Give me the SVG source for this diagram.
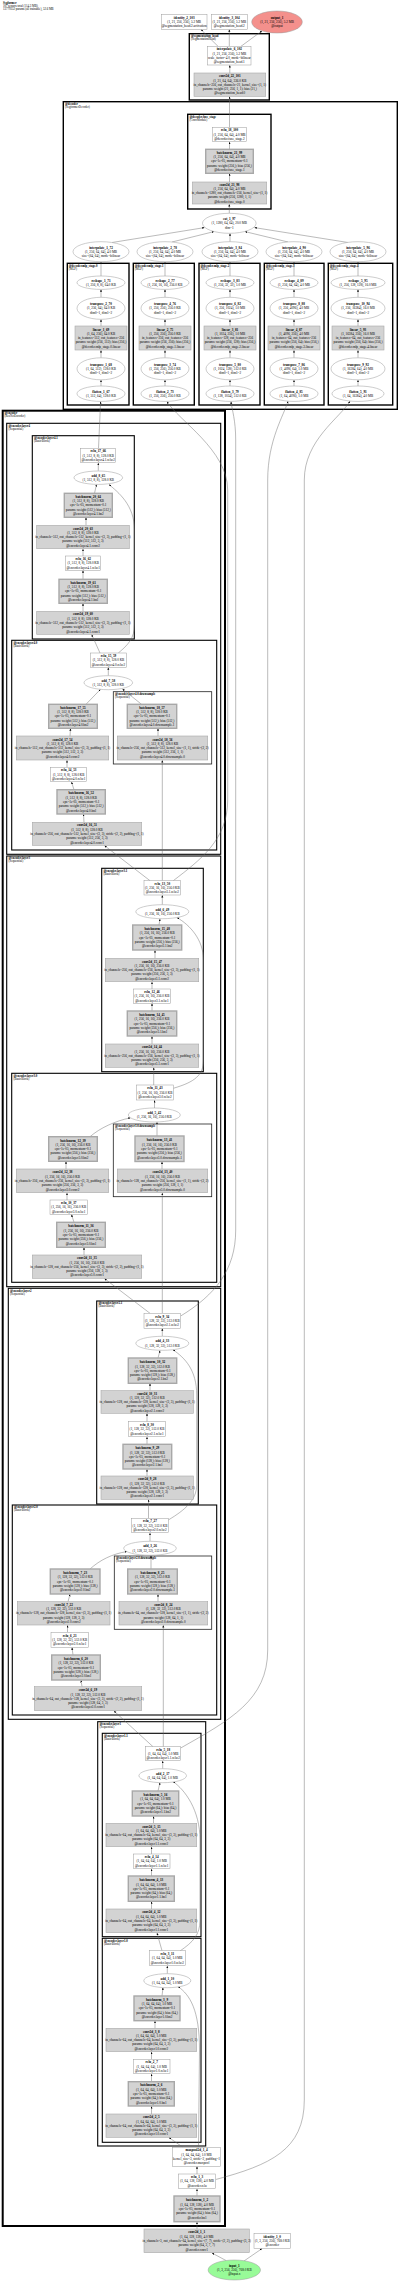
<svg xmlns="http://www.w3.org/2000/svg" width="400" height="2282" viewBox="0 0 400 2282">
<style>
.t{font-family:'Liberation Serif','Times New Roman',serif;font-size:3.3px;text-anchor:middle;fill:#000}
.b{font-weight:bold}
.cl{font-family:'Liberation Serif','Times New Roman',serif;font-size:3px;fill:#000}
.fn{fill:#fff;stroke:#9a9a9a;stroke-width:0.5}
.md{fill:#d3d3d3;stroke:#a8a8a8;stroke-width:0.6}
.m2{fill:#d3d3d3;stroke:#a8a8a8;stroke-width:1.4}
.c0{fill:none;stroke:#000;stroke-width:2}
.c1{fill:none;stroke:#000;stroke-width:1.4}
.c2{fill:none;stroke:#000;stroke-width:1.1}
.c3{fill:none;stroke:#222;stroke-width:0.8}
.e path{fill:none;stroke:#666;stroke-width:0.45;marker-end:url(#ah)}
</style>
<defs><marker id="ah" markerWidth="3" markerHeight="3" refX="2.2" refY="1" orient="auto" markerUnits="userSpaceOnUse"><path d="M0,0L2.2,1L0,2z" fill="#000"/></marker></defs>
<rect x="0" y="0" width="400" height="2282" fill="#fff"/>
<text class="cl" x="3" y="4"><tspan class="b">Segformer</tspan><tspan x="3" dy="3.2">107 tensors total (114.3 MB)</tspan><tspan x="3" dy="3.2">13779352 params (all trainable), 52.6 MB</tspan></text>

<g id="clusters">
<rect class="c1" x="189.3" y="33.7" width="80" height="66.3"/><text class="cl" x="191" y="36.9"><tspan class="b">@segmentation_head</tspan><tspan x="191" dy="3">(SegmentationHead)</tspan></text>
<rect class="c1" x="63.3" y="101.7" width="334" height="307.6"/><text class="cl" x="65" y="104.9"><tspan class="b">@decoder</tspan><tspan x="65" dy="3">(SegformerDecoder)</tspan></text>
<rect class="c1" x="187.7" y="114.3" width="83.3" height="94.7"/><text class="cl" x="189.5" y="117.5"><tspan class="b">@decoder.fuse_stage</tspan><tspan x="189.5" dy="3">(ConvModule)</tspan></text>
<rect class="c1" x="67.3" y="263.3" width="61.7" height="141.7"/><text class="cl" x="68.8" y="266.5"><tspan class="b">@decoder.mlp_stage.0</tspan><tspan x="68.8" dy="3">(MLP)</tspan></text>
<rect class="c1" x="133.3" y="263.3" width="61" height="141.7"/><text class="cl" x="134.8" y="266.5"><tspan class="b">@decoder.mlp_stage.1</tspan><tspan x="134.8" dy="3">(MLP)</tspan></text>
<rect class="c1" x="199" y="263.3" width="61" height="141.7"/><text class="cl" x="200.5" y="266.5"><tspan class="b">@decoder.mlp_stage.2</tspan><tspan x="200.5" dy="3">(MLP)</tspan></text>
<rect class="c1" x="264.3" y="263.3" width="59.7" height="141.7"/><text class="cl" x="265.8" y="266.5"><tspan class="b">@decoder.mlp_stage.3</tspan><tspan x="265.8" dy="3">(MLP)</tspan></text>
<rect class="c1" x="328.3" y="263.3" width="64.4" height="141.7"/><text class="cl" x="329.8" y="266.5"><tspan class="b">@decoder.mlp_stage.4</tspan><tspan x="329.8" dy="3">(MLP)</tspan></text>
<rect class="c0" x="2.7" y="410.7" width="222.3" height="1815.3"/><text class="cl" x="4.5" y="413.9"><tspan class="b">@encoder</tspan><tspan x="4.5" dy="3">(ResNetEncoder)</tspan></text>
<rect class="c2" x="6.7" y="423.3" width="214" height="431"/><text class="cl" x="8.5" y="426.5"><tspan class="b">@encoder.layer4</tspan><tspan x="8.5" dy="3">(Sequential)</tspan></text>
<rect class="c2" x="32.3" y="435.7" width="102" height="203.3"/><text class="cl" x="34" y="438.9"><tspan class="b">@encoder.layer4.1</tspan><tspan x="34" dy="3">(BasicBlock)</tspan></text>
<rect class="c2" x="11.7" y="640.3" width="205" height="209.7"/><text class="cl" x="13.5" y="643.5"><tspan class="b">@encoder.layer4.0</tspan><tspan x="13.5" dy="3">(BasicBlock)</tspan></text>
<rect class="c3" x="113.3" y="691.7" width="98.4" height="72.3"/><text class="cl" x="115" y="694.9"><tspan class="b">@encoder.layer4.0.downsample</tspan><tspan x="115" dy="3">(Sequential)</tspan></text>
<rect class="c2" x="6.7" y="856" width="214" height="430.7"/><text class="cl" x="8.5" y="859.2"><tspan class="b">@encoder.layer3</tspan><tspan x="8.5" dy="3">(Sequential)</tspan></text>
<rect class="c2" x="101.7" y="868.3" width="101.6" height="203.4"/><text class="cl" x="103.5" y="871.5"><tspan class="b">@encoder.layer3.1</tspan><tspan x="103.5" dy="3">(BasicBlock)</tspan></text>
<rect class="c2" x="11.7" y="1073.3" width="205" height="209"/><text class="cl" x="13.5" y="1076.5"><tspan class="b">@encoder.layer3.0</tspan><tspan x="13.5" dy="3">(BasicBlock)</tspan></text>
<rect class="c3" x="113.3" y="1124" width="98.4" height="72.7"/><text class="cl" x="115" y="1127.2"><tspan class="b">@encoder.layer3.0.downsample</tspan><tspan x="115" dy="3">(Sequential)</tspan></text>
<rect class="c2" x="8.3" y="1288.3" width="212.4" height="431"/><text class="cl" x="10" y="1291.5"><tspan class="b">@encoder.layer2</tspan><tspan x="10" dy="3">(Sequential)</tspan></text>
<rect class="c2" x="96.7" y="1301" width="101.6" height="203"/><text class="cl" x="98.5" y="1304.2"><tspan class="b">@encoder.layer2.1</tspan><tspan x="98.5" dy="3">(BasicBlock)</tspan></text>
<rect class="c2" x="12.3" y="1505" width="204.4" height="210"/><text class="cl" x="14" y="1508.2"><tspan class="b">@encoder.layer2.0</tspan><tspan x="14" dy="3">(BasicBlock)</tspan></text>
<rect class="c3" x="114.3" y="1556" width="97.4" height="73.3"/><text class="cl" x="116" y="1559.2"><tspan class="b">@encoder.layer2.0.downsample</tspan><tspan x="116" dy="3">(Sequential)</tspan></text>
<rect class="c2" x="97.7" y="1721.7" width="108" height="424.3"/><text class="cl" x="99.5" y="1724.9"><tspan class="b">@encoder.layer1</tspan><tspan x="99.5" dy="3">(Sequential)</tspan></text>
<rect class="c2" x="102.3" y="1733.3" width="98.7" height="203.4"/><text class="cl" x="104" y="1736.5"><tspan class="b">@encoder.layer1.1</tspan><tspan x="104" dy="3">(BasicBlock)</tspan></text>
<rect class="c2" x="102.3" y="1938.3" width="98.7" height="204"/><text class="cl" x="104" y="1941.5"><tspan class="b">@encoder.layer1.0</tspan><tspan x="104" dy="3">(BasicBlock)</tspan></text>
</g>

<g id="connectors" class="e">
<path d="M218 46.3L201 29.6"/>
<path d="M229.3 46.3L229.3 29.6"/>
<path d="M241 46.3L262 30.9"/>
<path d="M229.8 73L229.8 65.3"/>
<path d="M229.5 127.3L229.5 96.6"/>
<path d="M229.5 149.3L229.5 141.9"/>
<path d="M229.5 182L229.5 173.6"/>
<path d="M229.3 213.3L229.3 204.3"/>
<path d="M112 242.5L204.5 227.6"/>
<path d="M172 242L214 231.6"/>
<path d="M230 241.7L230 233.5"/>
<path d="M288 242L245 231.6"/>
<path d="M348 242.5L254.5 227.6"/>
<path d="M101 386L101 380"/><path d="M101 357.8L101 350.3"/><path d="M101 326L101 319.5"/><path d="M101 297.3L101 289.6"/><path d="M101 276L101 262"/>
<path d="M165 386L165 380"/><path d="M165 357.8L165 350.3"/><path d="M165 326L165 319.5"/><path d="M165 297.3L165 289.6"/><path d="M165 276L165 262"/>
<path d="M230 386L230 380"/><path d="M230 357.8L230 350.3"/><path d="M230 326L230 319.5"/><path d="M230 297.3L230 289.6"/><path d="M230 276L230 262"/>
<path d="M294 386L294 380"/><path d="M294 357.8L294 350.3"/><path d="M294 326L294 319.5"/><path d="M294 297.3L294 289.6"/><path d="M294 276L294 262"/>
<path d="M358 386L358 380"/><path d="M358 357.8L358 350.3"/><path d="M358 326L358 319.5"/><path d="M358 297.3L358 289.6"/><path d="M358 276L358 262"/>
<path d="M83 611.3L83 603.6"/>
<path d="M83 579.3L83 570.6"/>
<path d="M83 556L83 549"/>
<path d="M86 525.3L86 517.6"/>
<path d="M94.5 493.3L96.5 484.4"/>
<path d="M98.3 470.7L98.3 463"/>
<path d="M118.3 653C128 645 134.5 638 134.5 625L134.5 530C134.5 505 118 492 109 484.6"/>
<path d="M100 653L91.7 634.6"/>
<path d="M98.5 448.3L100.6 401.6"/>
<path d="M150 880.7L104.5 845.6"/>
<path d="M162.3 880.7L162.3 760.3"/>
<path d="M84 822.3L83.5 814.3"/>
<path d="M74 789.7L71.5 782"/>
<path d="M67 767.3L67 760.3"/>
<path d="M70 736L70.5 728.6"/>
<path d="M86 704.3L100.5 689.3"/>
<path d="M158 736L158 728.6"/>
<path d="M141.5 704.3L122.5 689"/>
<path d="M108.3 675.7L108.3 667.6"/>
<path d="M153.7 1085L153.7 1067.6"/>
<path d="M152 1044L152 1036.3"/>
<path d="M152 1011L152 1003.6"/>
<path d="M152 989L152 982"/>
<path d="M155 958.3L155 950.3"/>
<path d="M159 925L160 918.9"/>
<path d="M162.3 904.7L162.3 895.3"/>
<path d="M173.3 1088.3C195 1082 203.5 1075 203.5 1060L203.5 960C203.5 940 190 925 177 917.6"/>
<path d="M173.3 880.7C200 860 227.7 840 227.7 800L227.7 490C227.7 450 178 420 167 401.6"/>
<path d="M150 1313.3L104.5 1278.6"/>
<path d="M162.3 1313.3L162.3 1193"/>
<path d="M84 1255L84 1247.6"/>
<path d="M74 1222.3L71.5 1214.6"/>
<path d="M67 1200L67 1193"/>
<path d="M66 1169L66 1161.6"/>
<path d="M90 1136.7C100 1128 115 1121 130.5 1117.8"/>
<path d="M162 1169L162 1161.8"/>
<path d="M157 1136L157 1122.2"/>
<path d="M154.5 1108L154.5 1100.3"/>
<path d="M148.5 1518.3L148.5 1499.6"/>
<path d="M147 1476L147 1469.3"/>
<path d="M147 1444.3L147 1437"/>
<path d="M147 1421.7L147 1413.6"/>
<path d="M150 1390.7L150 1383.6"/>
<path d="M158 1358L160 1350.5"/>
<path d="M162.3 1336.3L162.3 1328.6"/>
<path d="M168.3 1520C185 1510 196.7 1500 196.7 1485L196.7 1395C196.7 1370 185 1358 173 1349.8"/>
<path d="M180.7 1316C215 1295 235.7 1270 235.7 1230L235.7 440C235.7 420 232 410 231 401.6"/>
<path d="M153 1746.7L114 1711"/>
<path d="M163.3 1746.7L163.3 1625.3"/>
<path d="M82 1686.7L81 1680.3"/>
<path d="M73 1655L72 1647.6"/>
<path d="M67.5 1632.3L67.5 1625.3"/>
<path d="M68 1601.7L70 1594.3"/>
<path d="M90 1569C100 1560 112 1554 127 1551.5"/>
<path d="M158 1601.7L158 1594.3"/>
<path d="M151 1569L151 1555.5"/>
<path d="M150 1541.3L150 1533"/>
<path d="M162 1950.7L157 1933"/>
<path d="M151.5 1909L151.5 1901.6"/>
<path d="M151.5 1876L151.5 1869"/>
<path d="M151.5 1854L151.5 1847"/>
<path d="M153.5 1823.3L153.5 1816.3"/>
<path d="M158 1791L160 1782.6"/>
<path d="M162.7 1768.7L162.7 1761"/>
<path d="M180 1951C193 1942 200 1935 200 1920L200 1840C200 1810 185 1790 173 1781.5"/>
<path d="M180.7 1748C230 1720 267.7 1700 267.7 1650L267.7 480C267.7 440 284 415 288 401.3"/>
<path d="M183 2147.3L169 2137.6"/>
<path d="M151.5 2114L151.5 2106.3"/>
<path d="M151.5 2081.7L151.5 2074"/>
<path d="M151.5 2059.3L151.5 2052"/>
<path d="M155 2028.3L155 2021"/>
<path d="M162 1996L163 1987.6"/>
<path d="M167.3 1973.7L167.3 1966"/>
<path d="M198.5 2147.3L199.5 2050C199.5 2010 190 1995 178 1986.5"/>
<path d="M226 2260.5L212 2253"/>
<path d="M244 2261L262 2248.6"/>
<path d="M197 2229L197 2222"/>
<path d="M197 2196L197 2189"/>
<path d="M197 2174L197 2166.6"/>
<path d="M215.7 2179.5C270 2165 304.3 2150 304.3 2100L304.3 480C304.3 440 340 418 350 401.2"/>
</g>

<g id="nodes">
<g id="identity_2_103"><rect class="fn" x="161.3" y="14.3" width="45.7" height="15"/><text class="t" x="184.2" y="18.6"><tspan class="b">identity_2_103</tspan><tspan x="184.2" dy="4.3">(1, 21, 256, 256), 5.2 MB</tspan><tspan x="184.2" dy="4.3">@segmentation_head.2.activation</tspan></text></g>
<g id="identity_3_104"><rect class="fn" x="211.3" y="14.3" width="36" height="15"/><text class="t" x="229.3" y="18.6"><tspan class="b">identity_3_104</tspan><tspan x="229.3" dy="4.3">(1, 21, 256, 256), 5.2 MB</tspan><tspan x="229.3" dy="4.3">@segmentation_head.2</tspan></text></g>
<g id="output_1"><ellipse cx="277" cy="22" rx="25.3" ry="11" fill="#f4908c" stroke="#9a9a9a" stroke-width="0.5"/><text class="t" x="277" y="18.8"><tspan class="b">output_1</tspan><tspan x="277" dy="4.3">(1, 21, 256, 256), 5.2 MB</tspan><tspan x="277" dy="4.3">@output</tspan></text></g>
<g id="interpolate_6_102"><rect class="fn" x="207.7" y="46.3" width="43.3" height="18.7"/><text class="t" x="229.3" y="50.3"><tspan class="b">interpolate_6_102</tspan><tspan x="229.3" dy="4.3">(1, 21, 256, 256), 5.2 MB</tspan><tspan x="229.3" dy="4.3">scale_factor=4.0, mode=bilinear</tspan><tspan x="229.3" dy="4.3">@segmentation_head.1</tspan></text></g>
<g id="conv2d_22_101"><rect class="md" x="194" y="73" width="71.7" height="23.3"/><text class="t" x="229.8" y="77.2"><tspan class="b">conv2d_22_101</tspan><tspan x="229.8" dy="4.3">(1, 21, 64, 64), 336.0 KB</tspan><tspan x="229.8" dy="4.3">in_channels=256, out_channels=21, kernel_size=(1, 1)</tspan><tspan x="229.8" dy="4.3">params: weight (21, 256, 1, 1); bias (21,)</tspan><tspan x="229.8" dy="4.3">@segmentation_head.0</tspan></text></g>
<g id="relu_18_100"><rect class="fn" x="212.3" y="127.3" width="34.4" height="14.4"/><text class="t" x="229.5" y="131.3"><tspan class="b">relu_18_100</tspan><tspan x="229.5" dy="4.3">(1, 256, 64, 64), 4.0 MB</tspan><tspan x="229.5" dy="4.3">@decoder.fuse_stage.2</tspan></text></g>
<g id="batchnorm_21_99"><rect class="m2" x="205.7" y="149.3" width="47.6" height="24"/><text class="t" x="229.5" y="153.8"><tspan class="b">batchnorm_21_99</tspan><tspan x="229.5" dy="4.3">(1, 256, 64, 64), 4.0 MB</tspan><tspan x="229.5" dy="4.3">eps=1e-05, momentum=0.1</tspan><tspan x="229.5" dy="4.3">params: weight (256,); bias (256,)</tspan><tspan x="229.5" dy="4.3">@decoder.fuse_stage.1</tspan></text></g>
<g id="conv2d_21_98"><rect class="md" x="192.3" y="182" width="74.4" height="22"/><text class="t" x="229.5" y="185.5"><tspan class="b">conv2d_21_98</tspan><tspan x="229.5" dy="4.3">(1, 256, 64, 64), 4.0 MB</tspan><tspan x="229.5" dy="4.3">in_channels=1280, out_channels=256, kernel_size=(1, 1)</tspan><tspan x="229.5" dy="4.3">params: weight (256, 1280, 1, 1)</tspan><tspan x="229.5" dy="4.3">@decoder.fuse_stage.0</tspan></text></g>
<g id="cat_1_97"><ellipse class="fn" cx="229.3" cy="223.3" rx="26.8" ry="10"/><text class="t" x="229.3" y="220.1"><tspan class="b">cat_1_97</tspan><tspan x="229.3" dy="4.3">(1, 1280, 64, 64), 20.0 MB</tspan><tspan x="229.3" dy="4.3">dim=1</tspan></text></g>

<g id="interpolate_1_72"><ellipse class="fn" cx="101" cy="251.7" rx="28" ry="10"/><text class="t" x="101" y="248.5"><tspan class="b">interpolate_1_72</tspan><tspan x="101" dy="4.3">(1, 256, 64, 64), 4.0 MB</tspan><tspan x="101" dy="4.3">size=(64, 64), mode=bilinear</tspan></text></g>
<g id="interpolate_2_78"><ellipse class="fn" cx="165" cy="251.7" rx="28" ry="10"/><text class="t" x="165" y="248.5"><tspan class="b">interpolate_2_78</tspan><tspan x="165" dy="4.3">(1, 256, 64, 64), 4.0 MB</tspan><tspan x="165" dy="4.3">size=(64, 64), mode=bilinear</tspan></text></g>
<g id="interpolate_3_84"><ellipse class="fn" cx="230" cy="251.7" rx="28" ry="10"/><text class="t" x="230" y="248.5"><tspan class="b">interpolate_3_84</tspan><tspan x="230" dy="4.3">(1, 256, 64, 64), 4.0 MB</tspan><tspan x="230" dy="4.3">size=(64, 64), mode=bilinear</tspan></text></g>
<g id="interpolate_4_90"><ellipse class="fn" cx="294" cy="251.7" rx="28" ry="10"/><text class="t" x="294" y="248.5"><tspan class="b">interpolate_4_90</tspan><tspan x="294" dy="4.3">(1, 256, 64, 64), 4.0 MB</tspan><tspan x="294" dy="4.3">size=(64, 64), mode=bilinear</tspan></text></g>
<g id="interpolate_5_96"><ellipse class="fn" cx="358" cy="251.7" rx="28" ry="10"/><text class="t" x="358" y="248.5"><tspan class="b">interpolate_5_96</tspan><tspan x="358" dy="4.3">(1, 256, 64, 64), 4.0 MB</tspan><tspan x="358" dy="4.3">size=(64, 64), mode=bilinear</tspan></text></g>

<g id="reshape_1_71"><ellipse class="fn" cx="101" cy="282.7" rx="24" ry="6.7"/><text class="t" x="101" y="281.6"><tspan class="b">reshape_1_71</tspan><tspan x="101" dy="4.3">(1, 256, 8, 8), 64.0 KB</tspan></text></g>
<g id="transpose_2_70"><ellipse class="fn" cx="101" cy="308.3" rx="24" ry="11"/><text class="t" x="101" y="305.1"><tspan class="b">transpose_2_70</tspan><tspan x="101" dy="4.3">(1, 256, 64), 64.0 KB</tspan><tspan x="101" dy="4.3">dim0=1, dim1=2</tspan></text></g>
<g id="linear_1_69"><rect class="md" x="75" y="326" width="52" height="24"/><text class="t" x="101" y="330.5"><tspan class="b">linear_1_69</tspan><tspan x="101" dy="4.3">(1, 64, 256), 64.0 KB</tspan><tspan x="101" dy="4.3">in_features=512, out_features=256</tspan><tspan x="101" dy="4.3">params: weight (256, 512); bias (256,)</tspan><tspan x="101" dy="4.3">@decoder.mlp_stage.0.linear</tspan></text></g>
<g id="transpose_1_68"><ellipse class="fn" cx="101" cy="368.8" rx="24" ry="11"/><text class="t" x="101" y="365.6"><tspan class="b">transpose_1_68</tspan><tspan x="101" dy="4.3">(1, 64, 512), 128.0 KB</tspan><tspan x="101" dy="4.3">dim0=1, dim1=2</tspan></text></g>
<g id="flatten_1_67"><ellipse class="fn" cx="101" cy="393.7" rx="24" ry="7.7"/><text class="t" x="101" y="392.6"><tspan class="b">flatten_1_67</tspan><tspan x="101" dy="4.3">(1, 512, 64), 128.0 KB</tspan></text></g>

<g id="reshape_2_77"><ellipse class="fn" cx="165" cy="282.7" rx="24" ry="6.7"/><text class="t" x="165" y="281.6"><tspan class="b">reshape_2_77</tspan><tspan x="165" dy="4.3">(1, 256, 16, 16), 256.0 KB</tspan></text></g>
<g id="transpose_4_76"><ellipse class="fn" cx="165" cy="308.3" rx="24" ry="11"/><text class="t" x="165" y="305.1"><tspan class="b">transpose_4_76</tspan><tspan x="165" dy="4.3">(1, 256, 256), 256.0 KB</tspan><tspan x="165" dy="4.3">dim0=1, dim1=2</tspan></text></g>
<g id="linear_2_75"><rect class="md" x="139" y="326" width="52" height="24"/><text class="t" x="165" y="330.5"><tspan class="b">linear_2_75</tspan><tspan x="165" dy="4.3">(1, 256, 256), 256.0 KB</tspan><tspan x="165" dy="4.3">in_features=256, out_features=256</tspan><tspan x="165" dy="4.3">params: weight (256, 256); bias (256,)</tspan><tspan x="165" dy="4.3">@decoder.mlp_stage.1.linear</tspan></text></g>
<g id="transpose_3_74"><ellipse class="fn" cx="165" cy="368.8" rx="24" ry="11"/><text class="t" x="165" y="365.6"><tspan class="b">transpose_3_74</tspan><tspan x="165" dy="4.3">(1, 256, 256), 256.0 KB</tspan><tspan x="165" dy="4.3">dim0=1, dim1=2</tspan></text></g>
<g id="flatten_2_73"><ellipse class="fn" cx="165" cy="393.7" rx="24" ry="7.7"/><text class="t" x="165" y="392.6"><tspan class="b">flatten_2_73</tspan><tspan x="165" dy="4.3">(1, 256, 256), 256.0 KB</tspan></text></g>

<g id="reshape_3_83"><ellipse class="fn" cx="230" cy="282.7" rx="24" ry="6.7"/><text class="t" x="230" y="281.6"><tspan class="b">reshape_3_83</tspan><tspan x="230" dy="4.3">(1, 256, 32, 32), 1.0 MB</tspan></text></g>
<g id="transpose_6_82"><ellipse class="fn" cx="230" cy="308.3" rx="24" ry="11"/><text class="t" x="230" y="305.1"><tspan class="b">transpose_6_82</tspan><tspan x="230" dy="4.3">(1, 256, 1024), 1.0 MB</tspan><tspan x="230" dy="4.3">dim0=1, dim1=2</tspan></text></g>
<g id="linear_3_81"><rect class="md" x="204" y="326" width="52" height="24"/><text class="t" x="230" y="330.5"><tspan class="b">linear_3_81</tspan><tspan x="230" dy="4.3">(1, 1024, 256), 1.0 MB</tspan><tspan x="230" dy="4.3">in_features=128, out_features=256</tspan><tspan x="230" dy="4.3">params: weight (256, 128); bias (256,)</tspan><tspan x="230" dy="4.3">@decoder.mlp_stage.2.linear</tspan></text></g>
<g id="transpose_5_80"><ellipse class="fn" cx="230" cy="368.8" rx="24" ry="11"/><text class="t" x="230" y="365.6"><tspan class="b">transpose_5_80</tspan><tspan x="230" dy="4.3">(1, 1024, 128), 512.0 KB</tspan><tspan x="230" dy="4.3">dim0=1, dim1=2</tspan></text></g>
<g id="flatten_3_79"><ellipse class="fn" cx="230" cy="393.7" rx="24" ry="7.7"/><text class="t" x="230" y="392.6"><tspan class="b">flatten_3_79</tspan><tspan x="230" dy="4.3">(1, 128, 1024), 512.0 KB</tspan></text></g>

<g id="reshape_4_89"><ellipse class="fn" cx="294" cy="282.7" rx="24" ry="6.7"/><text class="t" x="294" y="281.6"><tspan class="b">reshape_4_89</tspan><tspan x="294" dy="4.3">(1, 256, 64, 64), 4.0 MB</tspan></text></g>
<g id="transpose_8_88"><ellipse class="fn" cx="294" cy="308.3" rx="24" ry="11"/><text class="t" x="294" y="305.1"><tspan class="b">transpose_8_88</tspan><tspan x="294" dy="4.3">(1, 256, 4096), 4.0 MB</tspan><tspan x="294" dy="4.3">dim0=1, dim1=2</tspan></text></g>
<g id="linear_4_87"><rect class="md" x="268" y="326" width="52" height="24"/><text class="t" x="294" y="330.5"><tspan class="b">linear_4_87</tspan><tspan x="294" dy="4.3">(1, 4096, 256), 4.0 MB</tspan><tspan x="294" dy="4.3">in_features=64, out_features=256</tspan><tspan x="294" dy="4.3">params: weight (256, 64); bias (256,)</tspan><tspan x="294" dy="4.3">@decoder.mlp_stage.3.linear</tspan></text></g>
<g id="transpose_7_86"><ellipse class="fn" cx="294" cy="368.8" rx="24" ry="11"/><text class="t" x="294" y="365.6"><tspan class="b">transpose_7_86</tspan><tspan x="294" dy="4.3">(1, 4096, 64), 1.0 MB</tspan><tspan x="294" dy="4.3">dim0=1, dim1=2</tspan></text></g>
<g id="flatten_4_85"><ellipse class="fn" cx="294" cy="393.7" rx="24" ry="7.7"/><text class="t" x="294" y="392.6"><tspan class="b">flatten_4_85</tspan><tspan x="294" dy="4.3">(1, 64, 4096), 1.0 MB</tspan></text></g>

<g id="reshape_5_95"><ellipse class="fn" cx="358" cy="282.7" rx="27" ry="6.7"/><text class="t" x="358" y="281.6"><tspan class="b">reshape_5_95</tspan><tspan x="358" dy="4.3">(1, 256, 128, 128), 16.0 MB</tspan></text></g>
<g id="transpose_10_94"><ellipse class="fn" cx="358" cy="308.3" rx="27" ry="11"/><text class="t" x="358" y="305.1"><tspan class="b">transpose_10_94</tspan><tspan x="358" dy="4.3">(1, 256, 16384), 16.0 MB</tspan><tspan x="358" dy="4.3">dim0=1, dim1=2</tspan></text></g>
<g id="linear_5_93"><rect class="md" x="332" y="326" width="52" height="24"/><text class="t" x="358" y="330.5"><tspan class="b">linear_5_93</tspan><tspan x="358" dy="4.3">(1, 16384, 256), 16.0 MB</tspan><tspan x="358" dy="4.3">in_features=64, out_features=256</tspan><tspan x="358" dy="4.3">params: weight (256, 64); bias (256,)</tspan><tspan x="358" dy="4.3">@decoder.mlp_stage.4.linear</tspan></text></g>
<g id="transpose_9_92"><ellipse class="fn" cx="358" cy="368.8" rx="27" ry="11"/><text class="t" x="358" y="365.6"><tspan class="b">transpose_9_92</tspan><tspan x="358" dy="4.3">(1, 16384, 64), 4.0 MB</tspan><tspan x="358" dy="4.3">dim0=1, dim1=2</tspan></text></g>
<g id="flatten_5_91"><ellipse class="fn" cx="358" cy="393.7" rx="26" ry="7.7"/><text class="t" x="358" y="392.6"><tspan class="b">flatten_5_91</tspan><tspan x="358" dy="4.3">(1, 64, 16384), 4.0 MB</tspan></text></g>

<g id="relu_17_66"><rect class="fn" x="80.7" y="448.3" width="35" height="14.4"/><text class="t" x="98.2" y="452.3"><tspan class="b">relu_17_66</tspan><tspan x="98.2" dy="4.3">(1, 512, 8, 8), 128.0 KB</tspan><tspan x="98.2" dy="4.3">@encoder.layer4.1.relu:2</tspan></text></g>
<g id="add_8_65"><ellipse class="fn" cx="98.3" cy="477.7" rx="24.3" ry="6.7"/><text class="t" x="98.3" y="476.6"><tspan class="b">add_8_65</tspan><tspan x="98.3" dy="4.3">(1, 512, 8, 8), 128.0 KB</tspan></text></g>
<g id="batchnorm_20_64"><rect class="m2" x="64.3" y="493.3" width="48" height="24"/><text class="t" x="88.3" y="497.8"><tspan class="b">batchnorm_20_64</tspan><tspan x="88.3" dy="4.3">(1, 512, 8, 8), 128.0 KB</tspan><tspan x="88.3" dy="4.3">eps=1e-05, momentum=0.1</tspan><tspan x="88.3" dy="4.3">params: weight (512,); bias (512,)</tspan><tspan x="88.3" dy="4.3">@encoder.layer4.1.bn2</tspan></text></g>
<g id="conv2d_20_63"><rect class="md" x="36.7" y="525.3" width="92.6" height="23.4"/><text class="t" x="83" y="529.5"><tspan class="b">conv2d_20_63</tspan><tspan x="83" dy="4.3">(1, 512, 8, 8), 128.0 KB</tspan><tspan x="83" dy="4.3">in_channels=512, out_channels=512, kernel_size=(3, 3), padding=(1, 1)</tspan><tspan x="83" dy="4.3">params: weight (512, 512, 3, 3)</tspan><tspan x="83" dy="4.3">@encoder.layer4.1.conv2</tspan></text></g>
<g id="relu_16_62"><rect class="fn" x="65.7" y="556" width="35" height="14.3"/><text class="t" x="83.2" y="560"><tspan class="b">relu_16_62</tspan><tspan x="83.2" dy="4.3">(1, 512, 8, 8), 128.0 KB</tspan><tspan x="83.2" dy="4.3">@encoder.layer4.1.relu:1</tspan></text></g>
<g id="batchnorm_19_61"><rect class="m2" x="59" y="579.3" width="48.3" height="24"/><text class="t" x="83.2" y="583.8"><tspan class="b">batchnorm_19_61</tspan><tspan x="83.2" dy="4.3">(1, 512, 8, 8), 128.0 KB</tspan><tspan x="83.2" dy="4.3">eps=1e-05, momentum=0.1</tspan><tspan x="83.2" dy="4.3">params: weight (512,); bias (512,)</tspan><tspan x="83.2" dy="4.3">@encoder.layer4.1.bn1</tspan></text></g>
<g id="conv2d_19_60"><rect class="md" x="36.7" y="611.3" width="92.6" height="23"/><text class="t" x="83" y="615.3"><tspan class="b">conv2d_19_60</tspan><tspan x="83" dy="4.3">(1, 512, 8, 8), 128.0 KB</tspan><tspan x="83" dy="4.3">in_channels=512, out_channels=512, kernel_size=(3, 3), padding=(1, 1)</tspan><tspan x="83" dy="4.3">params: weight (512, 512, 3, 3)</tspan><tspan x="83" dy="4.3">@encoder.layer4.1.conv1</tspan></text></g>

<g id="relu_15_59"><rect class="fn" x="90.3" y="653" width="36.4" height="14.3"/><text class="t" x="108.5" y="657"><tspan class="b">relu_15_59</tspan><tspan x="108.5" dy="4.3">(1, 512, 8, 8), 128.0 KB</tspan><tspan x="108.5" dy="4.3">@encoder.layer4.0.relu:2</tspan></text></g>
<g id="add_7_58"><ellipse class="fn" cx="108.3" cy="682.7" rx="24.3" ry="7"/><text class="t" x="108.3" y="681.6"><tspan class="b">add_7_58</tspan><tspan x="108.3" dy="4.3">(1, 512, 8, 8), 128.0 KB</tspan></text></g>
<g id="batchnorm_18_57"><rect class="m2" x="127.3" y="704.3" width="49.4" height="24"/><text class="t" x="152" y="708.8"><tspan class="b">batchnorm_18_57</tspan><tspan x="152" dy="4.3">(1, 512, 8, 8), 128.0 KB</tspan><tspan x="152" dy="4.3">eps=1e-05, momentum=0.1</tspan><tspan x="152" dy="4.3">params: weight (512,); bias (512,)</tspan><tspan x="152" dy="4.3">@encoder.layer4.0.downsample.1</tspan></text></g>
<g id="conv2d_18_56"><rect class="md" x="117.3" y="736" width="90.4" height="24"/><text class="t" x="162.5" y="740.5"><tspan class="b">conv2d_18_56</tspan><tspan x="162.5" dy="4.3">(1, 512, 8, 8), 128.0 KB</tspan><tspan x="162.5" dy="4.3">in_channels=256, out_channels=512, kernel_size=(1, 1), stride=(2, 2)</tspan><tspan x="162.5" dy="4.3">params: weight (512, 256, 1, 1)</tspan><tspan x="162.5" dy="4.3">@encoder.layer4.0.downsample.0</tspan></text></g>
<g id="batchnorm_17_55"><rect class="m2" x="48.7" y="704.3" width="48.6" height="24"/><text class="t" x="73" y="708.8"><tspan class="b">batchnorm_17_55</tspan><tspan x="73" dy="4.3">(1, 512, 8, 8), 128.0 KB</tspan><tspan x="73" dy="4.3">eps=1e-05, momentum=0.1</tspan><tspan x="73" dy="4.3">params: weight (512,); bias (512,)</tspan><tspan x="73" dy="4.3">@encoder.layer4.0.bn2</tspan></text></g>
<g id="conv2d_17_54"><rect class="md" x="16.3" y="736" width="92.4" height="24"/><text class="t" x="62.5" y="740.5"><tspan class="b">conv2d_17_54</tspan><tspan x="62.5" dy="4.3">(1, 512, 8, 8), 128.0 KB</tspan><tspan x="62.5" dy="4.3">in_channels=512, out_channels=512, kernel_size=(3, 3), padding=(1, 1)</tspan><tspan x="62.5" dy="4.3">params: weight (512, 512, 3, 3)</tspan><tspan x="62.5" dy="4.3">@encoder.layer4.0.conv2</tspan></text></g>
<g id="relu_14_53"><rect class="fn" x="50.7" y="767.3" width="36" height="14.4"/><text class="t" x="68.7" y="771.3"><tspan class="b">relu_14_53</tspan><tspan x="68.7" dy="4.3">(1, 512, 8, 8), 128.0 KB</tspan><tspan x="68.7" dy="4.3">@encoder.layer4.0.relu:1</tspan></text></g>
<g id="batchnorm_16_52"><rect class="m2" x="57" y="789.7" width="48.3" height="24.3"/><text class="t" x="81.2" y="794.3"><tspan class="b">batchnorm_16_52</tspan><tspan x="81.2" dy="4.3">(1, 512, 8, 8), 128.0 KB</tspan><tspan x="81.2" dy="4.3">eps=1e-05, momentum=0.1</tspan><tspan x="81.2" dy="4.3">params: weight (512,); bias (512,)</tspan><tspan x="81.2" dy="4.3">@encoder.layer4.0.bn1</tspan></text></g>
<g id="conv2d_16_51"><rect class="md" x="32.3" y="822.3" width="109.4" height="23"/><text class="t" x="87" y="826.3"><tspan class="b">conv2d_16_51</tspan><tspan x="87" dy="4.3">(1, 512, 8, 8), 128.0 KB</tspan><tspan x="87" dy="4.3">in_channels=256, out_channels=512, kernel_size=(3, 3), stride=(2, 2), padding=(1, 1)</tspan><tspan x="87" dy="4.3">params: weight (512, 256, 3, 3)</tspan><tspan x="87" dy="4.3">@encoder.layer4.0.conv1</tspan></text></g>

<g id="relu_13_50"><rect class="fn" x="144" y="880.7" width="36.7" height="14.3"/><text class="t" x="162.3" y="884.6"><tspan class="b">relu_13_50</tspan><tspan x="162.3" dy="4.3">(1, 256, 16, 16), 256.0 KB</tspan><tspan x="162.3" dy="4.3">@encoder.layer3.1.relu:2</tspan></text></g>
<g id="add_6_49"><ellipse class="fn" cx="162.3" cy="911.7" rx="26.5" ry="7"/><text class="t" x="162.3" y="910.6"><tspan class="b">add_6_49</tspan><tspan x="162.3" dy="4.3">(1, 256, 16, 16), 256.0 KB</tspan></text></g>
<g id="batchnorm_15_48"><rect class="m2" x="132.7" y="925" width="49" height="25"/><text class="t" x="157.2" y="930"><tspan class="b">batchnorm_15_48</tspan><tspan x="157.2" dy="4.3">(1, 256, 16, 16), 256.0 KB</tspan><tspan x="157.2" dy="4.3">eps=1e-05, momentum=0.1</tspan><tspan x="157.2" dy="4.3">params: weight (256,); bias (256,)</tspan><tspan x="157.2" dy="4.3">@encoder.layer3.1.bn2</tspan></text></g>
<g id="conv2d_15_47"><rect class="md" x="105.3" y="958.3" width="93.4" height="23.4"/><text class="t" x="152" y="962.5"><tspan class="b">conv2d_15_47</tspan><tspan x="152" dy="4.3">(1, 256, 16, 16), 256.0 KB</tspan><tspan x="152" dy="4.3">in_channels=256, out_channels=256, kernel_size=(3, 3), padding=(1, 1)</tspan><tspan x="152" dy="4.3">params: weight (256, 256, 3, 3)</tspan><tspan x="152" dy="4.3">@encoder.layer3.1.conv2</tspan></text></g>
<g id="relu_12_46"><rect class="fn" x="133.3" y="989" width="37.4" height="14.3"/><text class="t" x="152" y="993"><tspan class="b">relu_12_46</tspan><tspan x="152" dy="4.3">(1, 256, 16, 16), 256.0 KB</tspan><tspan x="152" dy="4.3">@encoder.layer3.1.relu:1</tspan></text></g>
<g id="batchnorm_14_45"><rect class="m2" x="127.3" y="1011" width="49.4" height="25"/><text class="t" x="152" y="1016"><tspan class="b">batchnorm_14_45</tspan><tspan x="152" dy="4.3">(1, 256, 16, 16), 256.0 KB</tspan><tspan x="152" dy="4.3">eps=1e-05, momentum=0.1</tspan><tspan x="152" dy="4.3">params: weight (256,); bias (256,)</tspan><tspan x="152" dy="4.3">@encoder.layer3.1.bn1</tspan></text></g>
<g id="conv2d_14_44"><rect class="md" x="105.3" y="1044" width="93.4" height="23.3"/><text class="t" x="152" y="1048.2"><tspan class="b">conv2d_14_44</tspan><tspan x="152" dy="4.3">(1, 256, 16, 16), 256.0 KB</tspan><tspan x="152" dy="4.3">in_channels=256, out_channels=256, kernel_size=(3, 3), padding=(1, 1)</tspan><tspan x="152" dy="4.3">params: weight (256, 256, 3, 3)</tspan><tspan x="152" dy="4.3">@encoder.layer3.1.conv1</tspan></text></g>

<g id="relu_11_43"><rect class="fn" x="136.7" y="1085" width="36.6" height="15"/><text class="t" x="155" y="1089.3"><tspan class="b">relu_11_43</tspan><tspan x="155" dy="4.3">(1, 256, 16, 16), 256.0 KB</tspan><tspan x="155" dy="4.3">@encoder.layer3.0.relu:2</tspan></text></g>
<g id="add_5_42"><ellipse class="fn" cx="154.3" cy="1115" rx="26" ry="7"/><text class="t" x="154.3" y="1113.9"><tspan class="b">add_5_42</tspan><tspan x="154.3" dy="4.3">(1, 256, 16, 16), 256.0 KB</tspan></text></g>
<g id="batchnorm_13_41"><rect class="m2" x="135" y="1136" width="49" height="25.5"/><text class="t" x="159.5" y="1141.3"><tspan class="b">batchnorm_13_41</tspan><tspan x="159.5" dy="4.3">(1, 256, 16, 16), 256.0 KB</tspan><tspan x="159.5" dy="4.3">eps=1e-05, momentum=0.1</tspan><tspan x="159.5" dy="4.3">params: weight (256,); bias (256,)</tspan><tspan x="159.5" dy="4.3">@encoder.layer3.0.downsample.1</tspan></text></g>
<g id="conv2d_13_40"><rect class="md" x="117.3" y="1169" width="90.4" height="23.7"/><text class="t" x="162.5" y="1173.3"><tspan class="b">conv2d_13_40</tspan><tspan x="162.5" dy="4.3">(1, 256, 16, 16), 256.0 KB</tspan><tspan x="162.5" dy="4.3">in_channels=128, out_channels=256, kernel_size=(1, 1), stride=(2, 2)</tspan><tspan x="162.5" dy="4.3">params: weight (256, 128, 1, 1)</tspan><tspan x="162.5" dy="4.3">@encoder.layer3.0.downsample.0</tspan></text></g>
<g id="batchnorm_12_39"><rect class="m2" x="48.7" y="1136.7" width="48.6" height="24.6"/><text class="t" x="73" y="1141.5"><tspan class="b">batchnorm_12_39</tspan><tspan x="73" dy="4.3">(1, 256, 16, 16), 256.0 KB</tspan><tspan x="73" dy="4.3">eps=1e-05, momentum=0.1</tspan><tspan x="73" dy="4.3">params: weight (256,); bias (256,)</tspan><tspan x="73" dy="4.3">@encoder.layer3.0.bn2</tspan></text></g>
<g id="conv2d_12_38"><rect class="md" x="16.3" y="1169" width="92.4" height="23.7"/><text class="t" x="62.5" y="1173.3"><tspan class="b">conv2d_12_38</tspan><tspan x="62.5" dy="4.3">(1, 256, 16, 16), 256.0 KB</tspan><tspan x="62.5" dy="4.3">in_channels=256, out_channels=256, kernel_size=(3, 3), padding=(1, 1)</tspan><tspan x="62.5" dy="4.3">params: weight (256, 256, 3, 3)</tspan><tspan x="62.5" dy="4.3">@encoder.layer3.0.conv2</tspan></text></g>
<g id="relu_10_37"><rect class="fn" x="50" y="1200" width="37.3" height="14.3"/><text class="t" x="68.7" y="1204"><tspan class="b">relu_10_37</tspan><tspan x="68.7" dy="4.3">(1, 256, 16, 16), 256.0 KB</tspan><tspan x="68.7" dy="4.3">@encoder.layer3.0.relu:1</tspan></text></g>
<g id="batchnorm_11_36"><rect class="m2" x="56.7" y="1222.3" width="48.6" height="25"/><text class="t" x="81" y="1227.3"><tspan class="b">batchnorm_11_36</tspan><tspan x="81" dy="4.3">(1, 256, 16, 16), 256.0 KB</tspan><tspan x="81" dy="4.3">eps=1e-05, momentum=0.1</tspan><tspan x="81" dy="4.3">params: weight (256,); bias (256,)</tspan><tspan x="81" dy="4.3">@encoder.layer3.0.bn1</tspan></text></g>
<g id="conv2d_11_35"><rect class="md" x="32.3" y="1255" width="109.4" height="23.3"/><text class="t" x="87" y="1259.2"><tspan class="b">conv2d_11_35</tspan><tspan x="87" dy="4.3">(1, 256, 16, 16), 256.0 KB</tspan><tspan x="87" dy="4.3">in_channels=128, out_channels=256, kernel_size=(3, 3), stride=(2, 2), padding=(1, 1)</tspan><tspan x="87" dy="4.3">params: weight (256, 128, 3, 3)</tspan><tspan x="87" dy="4.3">@encoder.layer3.0.conv1</tspan></text></g>

<g id="relu_9_34"><rect class="fn" x="144" y="1313.3" width="36.7" height="15"/><text class="t" x="162.3" y="1317.6"><tspan class="b">relu_9_34</tspan><tspan x="162.3" dy="4.3">(1, 128, 32, 32), 512.0 KB</tspan><tspan x="162.3" dy="4.3">@encoder.layer2.1.relu:2</tspan></text></g>
<g id="add_4_33"><ellipse class="fn" cx="162.3" cy="1343.3" rx="26.5" ry="7"/><text class="t" x="162.3" y="1342.2"><tspan class="b">add_4_33</tspan><tspan x="162.3" dy="4.3">(1, 128, 32, 32), 512.0 KB</tspan></text></g>
<g id="batchnorm_10_32"><rect class="m2" x="128.3" y="1358" width="48.4" height="25.3"/><text class="t" x="152.5" y="1363.2"><tspan class="b">batchnorm_10_32</tspan><tspan x="152.5" dy="4.3">(1, 128, 32, 32), 512.0 KB</tspan><tspan x="152.5" dy="4.3">eps=1e-05, momentum=0.1</tspan><tspan x="152.5" dy="4.3">params: weight (128,); bias (128,)</tspan><tspan x="152.5" dy="4.3">@encoder.layer2.1.bn2</tspan></text></g>
<g id="conv2d_10_31"><rect class="md" x="101" y="1390.7" width="92.3" height="22.6"/><text class="t" x="147.2" y="1394.5"><tspan class="b">conv2d_10_31</tspan><tspan x="147.2" dy="4.3">(1, 128, 32, 32), 512.0 KB</tspan><tspan x="147.2" dy="4.3">in_channels=128, out_channels=128, kernel_size=(3, 3), padding=(1, 1)</tspan><tspan x="147.2" dy="4.3">params: weight (128, 128, 3, 3)</tspan><tspan x="147.2" dy="4.3">@encoder.layer2.1.conv2</tspan></text></g>
<g id="relu_8_30"><rect class="fn" x="128.3" y="1421.7" width="37.4" height="15"/><text class="t" x="147" y="1426"><tspan class="b">relu_8_30</tspan><tspan x="147" dy="4.3">(1, 128, 32, 32), 512.0 KB</tspan><tspan x="147" dy="4.3">@encoder.layer2.1.relu:1</tspan></text></g>
<g id="batchnorm_9_29"><rect class="m2" x="123" y="1444.3" width="48.7" height="24.7"/><text class="t" x="147.3" y="1449.2"><tspan class="b">batchnorm_9_29</tspan><tspan x="147.3" dy="4.3">(1, 128, 32, 32), 512.0 KB</tspan><tspan x="147.3" dy="4.3">eps=1e-05, momentum=0.1</tspan><tspan x="147.3" dy="4.3">params: weight (128,); bias (128,)</tspan><tspan x="147.3" dy="4.3">@encoder.layer2.1.bn1</tspan></text></g>
<g id="conv2d_9_28"><rect class="md" x="101" y="1476" width="92.3" height="23.3"/><text class="t" x="147.2" y="1480.2"><tspan class="b">conv2d_9_28</tspan><tspan x="147.2" dy="4.3">(1, 128, 32, 32), 512.0 KB</tspan><tspan x="147.2" dy="4.3">in_channels=128, out_channels=128, kernel_size=(3, 3), padding=(1, 1)</tspan><tspan x="147.2" dy="4.3">params: weight (128, 128, 3, 3)</tspan><tspan x="147.2" dy="4.3">@encoder.layer2.1.conv1</tspan></text></g>

<g id="relu_7_27"><rect class="fn" x="131.7" y="1518.3" width="36.6" height="14.4"/><text class="t" x="150" y="1522.3"><tspan class="b">relu_7_27</tspan><tspan x="150" dy="4.3">(1, 128, 32, 32), 512.0 KB</tspan><tspan x="150" dy="4.3">@encoder.layer2.0.relu:2</tspan></text></g>
<g id="add_3_26"><ellipse class="fn" cx="150" cy="1548.3" rx="26.3" ry="7"/><text class="t" x="150" y="1547.2"><tspan class="b">add_3_26</tspan><tspan x="150" dy="4.3">(1, 128, 32, 32), 512.0 KB</tspan></text></g>
<g id="batchnorm_8_25"><rect class="m2" x="127.7" y="1569" width="49.6" height="25"/><text class="t" x="152.5" y="1574"><tspan class="b">batchnorm_8_25</tspan><tspan x="152.5" dy="4.3">(1, 128, 32, 32), 512.0 KB</tspan><tspan x="152.5" dy="4.3">eps=1e-05, momentum=0.1</tspan><tspan x="152.5" dy="4.3">params: weight (128,); bias (128,)</tspan><tspan x="152.5" dy="4.3">@encoder.layer2.0.downsample.1</tspan></text></g>
<g id="conv2d_8_24"><rect class="md" x="119" y="1601.7" width="88.7" height="23.3"/><text class="t" x="163.3" y="1605.8"><tspan class="b">conv2d_8_24</tspan><tspan x="163.3" dy="4.3">(1, 128, 32, 32), 512.0 KB</tspan><tspan x="163.3" dy="4.3">in_channels=64, out_channels=128, kernel_size=(1, 1), stride=(2, 2)</tspan><tspan x="163.3" dy="4.3">params: weight (128, 64, 1, 1)</tspan><tspan x="163.3" dy="4.3">@encoder.layer2.0.downsample.0</tspan></text></g>
<g id="batchnorm_7_23"><rect class="m2" x="50.3" y="1569" width="49.7" height="25"/><text class="t" x="75.2" y="1574"><tspan class="b">batchnorm_7_23</tspan><tspan x="75.2" dy="4.3">(1, 128, 32, 32), 512.0 KB</tspan><tspan x="75.2" dy="4.3">eps=1e-05, momentum=0.1</tspan><tspan x="75.2" dy="4.3">params: weight (128,); bias (128,)</tspan><tspan x="75.2" dy="4.3">@encoder.layer2.0.bn2</tspan></text></g>
<g id="conv2d_7_22"><rect class="md" x="17.3" y="1601.7" width="92.7" height="23.3"/><text class="t" x="63.7" y="1605.8"><tspan class="b">conv2d_7_22</tspan><tspan x="63.7" dy="4.3">(1, 128, 32, 32), 512.0 KB</tspan><tspan x="63.7" dy="4.3">in_channels=128, out_channels=128, kernel_size=(3, 3), padding=(1, 1)</tspan><tspan x="63.7" dy="4.3">params: weight (128, 128, 3, 3)</tspan><tspan x="63.7" dy="4.3">@encoder.layer2.0.conv2</tspan></text></g>
<g id="relu_6_21"><rect class="fn" x="51" y="1632.3" width="37.3" height="15"/><text class="t" x="69.7" y="1636.6"><tspan class="b">relu_6_21</tspan><tspan x="69.7" dy="4.3">(1, 128, 32, 32), 512.0 KB</tspan><tspan x="69.7" dy="4.3">@encoder.layer2.0.relu:1</tspan></text></g>
<g id="batchnorm_6_20"><rect class="m2" x="51.7" y="1655" width="48.6" height="25"/><text class="t" x="76" y="1660"><tspan class="b">batchnorm_6_20</tspan><tspan x="76" dy="4.3">(1, 128, 32, 32), 512.0 KB</tspan><tspan x="76" dy="4.3">eps=1e-05, momentum=0.1</tspan><tspan x="76" dy="4.3">params: weight (128,); bias (128,)</tspan><tspan x="76" dy="4.3">@encoder.layer2.0.bn1</tspan></text></g>
<g id="conv2d_6_19"><rect class="md" x="34.3" y="1686.7" width="107.4" height="24"/><text class="t" x="88" y="1691.2"><tspan class="b">conv2d_6_19</tspan><tspan x="88" dy="4.3">(1, 128, 32, 32), 512.0 KB</tspan><tspan x="88" dy="4.3">in_channels=64, out_channels=128, kernel_size=(3, 3), stride=(2, 2), padding=(1, 1)</tspan><tspan x="88" dy="4.3">params: weight (128, 64, 3, 3)</tspan><tspan x="88" dy="4.3">@encoder.layer2.0.conv1</tspan></text></g>

<g id="relu_5_18"><rect class="fn" x="145.7" y="1746.7" width="35" height="14"/><text class="t" x="163.2" y="1750.5"><tspan class="b">relu_5_18</tspan><tspan x="163.2" dy="4.3">(1, 64, 64, 64), 1.0 MB</tspan><tspan x="163.2" dy="4.3">@encoder.layer1.1.relu:2</tspan></text></g>
<g id="add_2_17"><ellipse class="fn" cx="162.7" cy="1775.7" rx="23.8" ry="7"/><text class="t" x="162.7" y="1774.6"><tspan class="b">add_2_17</tspan><tspan x="162.7" dy="4.3">(1, 64, 64, 64), 1.0 MB</tspan></text></g>
<g id="batchnorm_5_16"><rect class="m2" x="132.3" y="1791" width="46.4" height="25"/><text class="t" x="155.5" y="1796"><tspan class="b">batchnorm_5_16</tspan><tspan x="155.5" dy="4.3">(1, 64, 64, 64), 1.0 MB</tspan><tspan x="155.5" dy="4.3">eps=1e-05, momentum=0.1</tspan><tspan x="155.5" dy="4.3">params: weight (64,); bias (64,)</tspan><tspan x="155.5" dy="4.3">@encoder.layer1.1.bn2</tspan></text></g>
<g id="conv2d_5_15"><rect class="md" x="106" y="1823.3" width="90.7" height="23.4"/><text class="t" x="151.3" y="1827.5"><tspan class="b">conv2d_5_15</tspan><tspan x="151.3" dy="4.3">(1, 64, 64, 64), 1.0 MB</tspan><tspan x="151.3" dy="4.3">in_channels=64, out_channels=64, kernel_size=(3, 3), padding=(1, 1)</tspan><tspan x="151.3" dy="4.3">params: weight (64, 64, 3, 3)</tspan><tspan x="151.3" dy="4.3">@encoder.layer1.1.conv2</tspan></text></g>
<g id="relu_4_14"><rect class="fn" x="133.3" y="1854" width="36.7" height="14.7"/><text class="t" x="151.7" y="1858.1"><tspan class="b">relu_4_14</tspan><tspan x="151.7" dy="4.3">(1, 64, 64, 64), 1.0 MB</tspan><tspan x="151.7" dy="4.3">@encoder.layer1.1.relu:1</tspan></text></g>
<g id="batchnorm_4_13"><rect class="m2" x="128.3" y="1876" width="46" height="25.3"/><text class="t" x="151.3" y="1881.2"><tspan class="b">batchnorm_4_13</tspan><tspan x="151.3" dy="4.3">(1, 64, 64, 64), 1.0 MB</tspan><tspan x="151.3" dy="4.3">eps=1e-05, momentum=0.1</tspan><tspan x="151.3" dy="4.3">params: weight (64,); bias (64,)</tspan><tspan x="151.3" dy="4.3">@encoder.layer1.1.bn1</tspan></text></g>
<g id="conv2d_4_12"><rect class="md" x="106" y="1909" width="90.7" height="23.7"/><text class="t" x="151.3" y="1913.3"><tspan class="b">conv2d_4_12</tspan><tspan x="151.3" dy="4.3">(1, 64, 64, 64), 1.0 MB</tspan><tspan x="151.3" dy="4.3">in_channels=64, out_channels=64, kernel_size=(3, 3), padding=(1, 1)</tspan><tspan x="151.3" dy="4.3">params: weight (64, 64, 3, 3)</tspan><tspan x="151.3" dy="4.3">@encoder.layer1.1.conv1</tspan></text></g>

<g id="relu_3_11"><rect class="fn" x="149.3" y="1950.7" width="36" height="15"/><text class="t" x="167.3" y="1955"><tspan class="b">relu_3_11</tspan><tspan x="167.3" dy="4.3">(1, 64, 64, 64), 1.0 MB</tspan><tspan x="167.3" dy="4.3">@encoder.layer1.0.relu:2</tspan></text></g>
<g id="add_1_10"><ellipse class="fn" cx="167.3" cy="1980.7" rx="23.5" ry="7"/><text class="t" x="167.3" y="1979.6"><tspan class="b">add_1_10</tspan><tspan x="167.3" dy="4.3">(1, 64, 64, 64), 1.0 MB</tspan></text></g>
<g id="batchnorm_3_9"><rect class="m2" x="134" y="1996" width="46" height="24.7"/><text class="t" x="157" y="2000.8"><tspan class="b">batchnorm_3_9</tspan><tspan x="157" dy="4.3">(1, 64, 64, 64), 1.0 MB</tspan><tspan x="157" dy="4.3">eps=1e-05, momentum=0.1</tspan><tspan x="157" dy="4.3">params: weight (64,); bias (64,)</tspan><tspan x="157" dy="4.3">@encoder.layer1.0.bn2</tspan></text></g>
<g id="conv2d_3_8"><rect class="md" x="106" y="2028.3" width="90.7" height="23.4"/><text class="t" x="151.3" y="2032.5"><tspan class="b">conv2d_3_8</tspan><tspan x="151.3" dy="4.3">(1, 64, 64, 64), 1.0 MB</tspan><tspan x="151.3" dy="4.3">in_channels=64, out_channels=64, kernel_size=(3, 3), padding=(1, 1)</tspan><tspan x="151.3" dy="4.3">params: weight (64, 64, 3, 3)</tspan><tspan x="151.3" dy="4.3">@encoder.layer1.0.conv2</tspan></text></g>
<g id="relu_2_7"><rect class="fn" x="133.3" y="2059.3" width="36.7" height="14.4"/><text class="t" x="151.7" y="2063.3"><tspan class="b">relu_2_7</tspan><tspan x="151.7" dy="4.3">(1, 64, 64, 64), 1.0 MB</tspan><tspan x="151.7" dy="4.3">@encoder.layer1.0.relu:1</tspan></text></g>
<g id="batchnorm_2_6"><rect class="m2" x="128.3" y="2081.7" width="46" height="24.3"/><text class="t" x="151.3" y="2086.3"><tspan class="b">batchnorm_2_6</tspan><tspan x="151.3" dy="4.3">(1, 64, 64, 64), 1.0 MB</tspan><tspan x="151.3" dy="4.3">eps=1e-05, momentum=0.1</tspan><tspan x="151.3" dy="4.3">params: weight (64,); bias (64,)</tspan><tspan x="151.3" dy="4.3">@encoder.layer1.0.bn1</tspan></text></g>
<g id="conv2d_2_5"><rect class="md" x="106" y="2114" width="90.7" height="23.3"/><text class="t" x="151.3" y="2118.2"><tspan class="b">conv2d_2_5</tspan><tspan x="151.3" dy="4.3">(1, 64, 64, 64), 1.0 MB</tspan><tspan x="151.3" dy="4.3">in_channels=64, out_channels=64, kernel_size=(3, 3), padding=(1, 1)</tspan><tspan x="151.3" dy="4.3">params: weight (64, 64, 3, 3)</tspan><tspan x="151.3" dy="4.3">@encoder.layer1.0.conv1</tspan></text></g>

<g id="maxpool2d_1_4"><rect class="fn" x="172.3" y="2147.3" width="48.4" height="19"/><text class="t" x="196.5" y="2151.4"><tspan class="b">maxpool2d_1_4</tspan><tspan x="196.5" dy="4.3">(1, 64, 64, 64), 1.0 MB</tspan><tspan x="196.5" dy="4.3">kernel_size=3, stride=2, padding=1</tspan><tspan x="196.5" dy="4.3">@encoder.maxpool</tspan></text></g>
<g id="relu_1_3"><rect class="fn" x="178.3" y="2174" width="37.4" height="14.7"/><text class="t" x="197" y="2178.1"><tspan class="b">relu_1_3</tspan><tspan x="197" dy="4.3">(1, 64, 128, 128), 4.0 MB</tspan><tspan x="197" dy="4.3">@encoder.relu</tspan></text></g>
<g id="batchnorm_1_2"><rect class="m2" x="174" y="2196" width="46" height="25.7"/><text class="t" x="197" y="2201.3"><tspan class="b">batchnorm_1_2</tspan><tspan x="197" dy="4.3">(1, 64, 128, 128), 4.0 MB</tspan><tspan x="197" dy="4.3">eps=1e-05, momentum=0.1</tspan><tspan x="197" dy="4.3">params: weight (64,); bias (64,)</tspan><tspan x="197" dy="4.3">@encoder.bn1</tspan></text></g>
<g id="conv2d_1_1"><rect class="md" x="144" y="2229" width="105.3" height="23.7"/><text class="t" x="196.7" y="2233.3"><tspan class="b">conv2d_1_1</tspan><tspan x="196.7" dy="4.3">(1, 64, 128, 128), 4.0 MB</tspan><tspan x="196.7" dy="4.3">in_channels=3, out_channels=64, kernel_size=(7, 7), stride=(2, 2), padding=(3, 3)</tspan><tspan x="196.7" dy="4.3">params: weight (64, 3, 7, 7)</tspan><tspan x="196.7" dy="4.3">@encoder.conv1</tspan></text></g>
<g id="identity_1_0"><rect class="fn" x="254" y="2233.3" width="36.7" height="15"/><text class="t" x="272.3" y="2237.6"><tspan class="b">identity_1_0</tspan><tspan x="272.3" dy="4.3">(1, 3, 256, 256), 768.0 KB</tspan><tspan x="272.3" dy="4.3">@encoder</tspan></text></g>
<g id="input_1"><ellipse cx="234.3" cy="2270" rx="26.2" ry="10" fill="#98fb98" stroke="#9a9a9a" stroke-width="0.5"/><text class="t" x="234.3" y="2266.8"><tspan class="b">input_1</tspan><tspan x="234.3" dy="4.3">(1, 3, 256, 256), 768.0 KB</tspan><tspan x="234.3" dy="4.3">@input.x</tspan></text></g>
</g>
</svg>
